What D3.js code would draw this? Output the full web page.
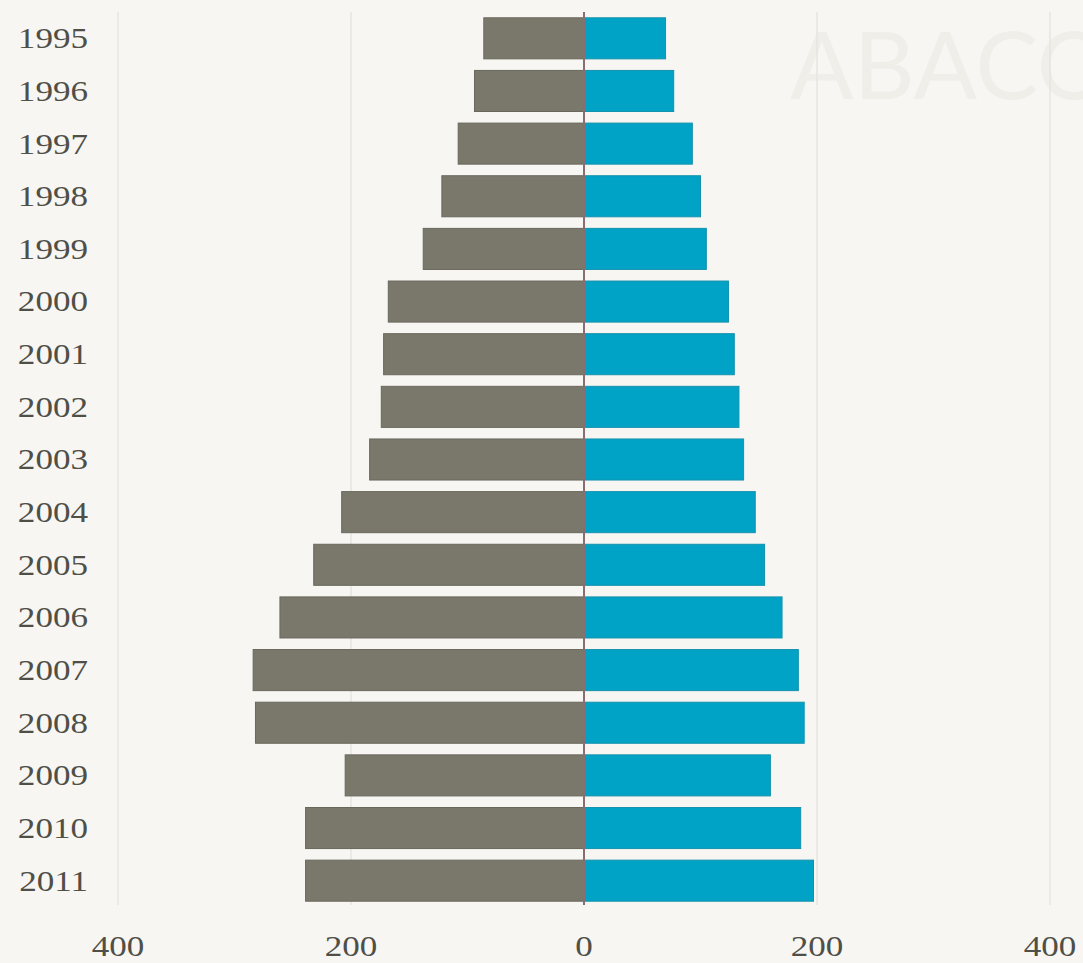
<!DOCTYPE html>
<html>
<head>
<meta charset="utf-8">
<script src="https://cdn.jsdelivr.net/npm/d3@7"></script>
<style>
  html, body { margin: 0; padding: 0; background: #f7f6f2; }
  svg { display: block; }
</style>
</head>
<body>
<div id="chart"></div>
<script>
const years = ["1995", "1996", "1997", "1998", "1999", "2000", "2001", "2002", "2003",
  "2004", "2005", "2006", "2007", "2008", "2009", "2010", "2011"];
const leftValues = [86, 94, 108, 122, 138, 168, 172, 174, 184, 208, 232, 261, 284, 282, 205, 239, 239];
const rightValues = [70, 77, 93, 100, 105, 124, 129, 133, 137, 147, 155, 170, 184, 189, 160, 186, 197];
const tickValues = [-400, -200, 0, 200, 400];

const width = 1083, height = 963;
const serif = "'Liberation Serif', 'DejaVu Serif', serif";

const svg = d3.select("#chart")
  .append("svg")
  .attr("width", width)
  .attr("height", height);

svg.append("rect")
  .attr("width", width)
  .attr("height", height)
  .attr("fill", "#f7f6f2");

// watermark logo, cut by the right edge like in the original
svg.append("text")
  .attr("x", 790)
  .attr("y", 99)
  .attr("font-family", "Lato, 'Open Sans', sans-serif")
  .attr("font-weight", 400)
  .attr("font-size", 94)
  .attr("fill", "#efeee9")
  .text("ABACO");

const x = d3.scaleLinear()
  .domain([-400, 400])
  .range([118, 1050]);

const y = d3.scaleBand()
  .domain(years)
  .range([12, 907])
  .paddingInner(0.22)
  .paddingOuter(0.11);

// grid
svg.append("g")
  .selectAll("line")
  .data(tickValues.filter(d => d !== 0))
  .enter()
  .append("line")
  .attr("x1", d => x(d))
  .attr("x2", d => x(d))
  .attr("y1", 12)
  .attr("y2", 905)
  .attr("stroke", "#e6e4df")
  .attr("stroke-width", 1.5);

svg.append("g")
  .selectAll("rect")
  .data(years)
  .enter()
  .append("rect")
  .attr("x", (d, i) => x(-leftValues[i]))
  .attr("y", d => y(d))
  .attr("width", (d, i) => x(0) - x(-leftValues[i]))
  .attr("height", y.bandwidth())
  .attr("fill", "#7a786b")
  .attr("stroke", "#6a685d")
  .attr("stroke-width", 1);

svg.append("g")
  .selectAll("rect")
  .data(years)
  .enter()
  .append("rect")
  .attr("x", x(0))
  .attr("y", d => y(d))
  .attr("width", (d, i) => x(rightValues[i]) - x(0))
  .attr("height", y.bandwidth())
  .attr("fill", "#00a3c6")
  .attr("stroke", "#1592ad")
  .attr("stroke-width", 1);

// zero line
svg.append("line")
  .attr("x1", x(0))
  .attr("x2", x(0))
  .attr("y1", 12)
  .attr("y2", 905)
  .attr("stroke", "#8a6d72")
  .attr("stroke-width", 2);

// year labels (wide serif look: stretch horizontally)
svg.append("g")
  .selectAll("text")
  .data(years)
  .enter()
  .append("text")
  .attr("transform", d => `translate(88, ${y(d) + y.bandwidth() / 2}) scale(1.17, 1)`)
  .attr("dy", "0.33em")
  .attr("text-anchor", "end")
  .attr("font-family", serif)
  .attr("font-size", 30)
  .attr("fill", "#4f4f48")
  .text(d => d);

// bottom tick labels
svg.append("g")
  .selectAll("text")
  .data(tickValues)
  .enter()
  .append("text")
  .attr("transform", d => `translate(${x(d)}, 956) scale(1.17, 1)`)
  .attr("text-anchor", "middle")
  .attr("font-family", serif)
  .attr("font-size", 30)
  .attr("fill", "#4f4f48")
  .text(d => Math.abs(d));
</script>
</body>
</html>
